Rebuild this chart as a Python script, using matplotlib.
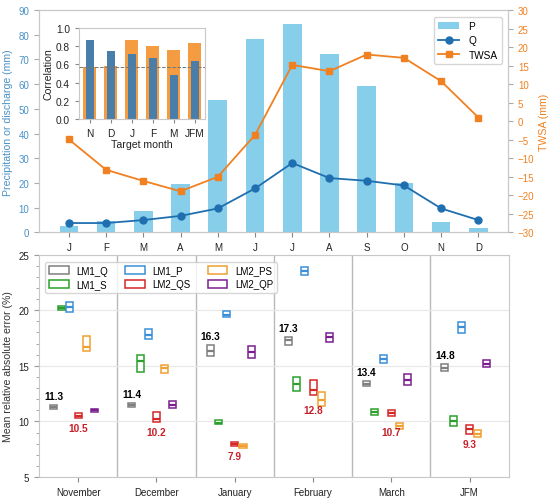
import numpy as np
import matplotlib.pyplot as plt
from matplotlib.patches import Patch

plt.rcParams.update({
    "font.family": ["Liberation Sans", "DejaVu Sans"],
    "font.size": 7,
    "axes.edgecolor": "#c8c8c8",
    "xtick.color": "#555555",
    "ytick.color": "#555555",
})

# ---- top panel data ----
months = ["J", "F", "M", "A", "M", "J", "J", "A", "S", "O", "N", "D"]
precip = [2.7, 4.5, 8.5, 19.6, 53.6, 78.3, 84.2, 72.2, 59.1, 20.1, 4.2, 1.7]
discharge = [3.8, 3.8, 5.0, 6.7, 9.7, 17.8, 28.1, 22.0, 20.9, 19.0, 9.7, 5.0]
twsa = [-4.9, -13.1, -16.1, -18.9, -15.0, -3.7, 15.2, 13.5, 18.0, 17.1, 10.8, 1.0]

# ---- inset data ----
target_months = ["N", "D", "J", "F", "M", "JFM"]
corr_orange = [0.575, 0.578, 0.864, 0.802, 0.762, 0.832]
corr_blue = [0.868, 0.744, 0.711, 0.670, 0.484, 0.637]
corr_thresh = 0.57

# ---- bottom panel data (q1, median, q3) ----
groups = ["November", "December", "January", "February", "March", "JFM"]
models = ["LM1_Q", "LM1_S", "LM1_P", "LM2_QS", "LM2_PS", "LM2_QP"]
model_colors = ["#7f7f7f", "#2ca02c", "#3a8fd8", "#d62728", "#f0a030", "#7b1f8f"]
mrae = {
    "LM1_Q":  [(11.15, 11.3, 11.5), (11.28, 11.45, 11.69), (15.92, 16.3, 16.9),
               (16.85, 17.3, 17.57), (13.22, 13.4, 13.61), (14.51, 14.8, 15.14)],
    "LM1_S":  [(20.05, 20.23, 20.41), (14.42, 15.4, 16.0), (9.75, 9.9, 10.1),
               (12.77, 13.37, 13.97), (10.58, 10.85, 11.12), (9.57, 10.0, 10.52)],
    "LM1_P":  [(19.87, 20.25, 20.77), (17.42, 17.8, 18.29), (19.4, 19.6, 19.94),
               (23.17, 23.55, 23.92), (15.23, 15.6, 16.0), (17.99, 18.5, 18.97)],
    "LM2_QS": [(10.29, 10.5, 10.79), (9.93, 10.2, 10.83), (7.77, 7.95, 8.13),
               (12.36, 12.8, 13.76), (10.52, 10.75, 11.03), (8.85, 9.3, 9.71)],
    "LM2_PS": [(16.31, 16.7, 17.66), (14.33, 14.8, 15.08), (7.6, 7.8, 8.0),
               (11.37, 11.9, 12.63), (9.33, 9.6, 9.84), (8.61, 8.9, 9.21)],
    "LM2_QP": [(10.85, 11.0, 11.15), (11.21, 11.5, 11.82), (15.74, 16.2, 16.8),
               (17.12, 17.55, 17.96), (13.31, 13.75, 14.27), (14.9, 15.2, 15.56)],
}
best_lm1 = [11.3, 11.4, 16.3, 17.3, 13.4, 14.8]
best_lm2 = [10.5, 10.2, 7.9, 12.8, 10.7, 9.3]

C_P = "#87ceeb"
C_Q = "#1f6fb0"
C_TWSA = "#f08020"
C_LBLUE = "#4a92c6"
FS = 7
FS_LAB = 7.6

fig = plt.figure(figsize=(5.5, 5.02), dpi=100)

# ================= top panel =================
ax = fig.add_axes([0.071, 0.535, 0.853, 0.443])
x = np.arange(len(months))
bars = ax.bar(x, precip, width=0.5, color=C_P, label="P", zorder=1)
ln_q, = ax.plot(x, discharge, color=C_Q, marker="o", ms=5, lw=1.3, label="Q", zorder=3)
ax.set_ylim(0, 90)
ax.set_yticks(np.arange(0, 91, 10))
ax.set_xlim(-0.8, 11.8)
ax.set_xticks(x)
ax.set_xticklabels(months)
ax.tick_params(axis="y", colors="#aaaaaa", labelcolor=C_LBLUE, labelsize=FS)
ax.tick_params(axis="x", colors="#888888", labelcolor="#222222", labelsize=FS)
ax.set_ylabel("Precipitation or discharge (mm)", color=C_LBLUE, fontsize=FS_LAB)

ax2 = ax.twinx()
ln_t, = ax2.plot(x, twsa, color=C_TWSA, marker="s", ms=5, lw=1.3, label="TWSA", zorder=3)
ax2.set_ylim(-30, 30)
ax2.set_yticks(np.arange(-30, 31, 5))
ax2.tick_params(axis="y", colors="#aaaaaa", labelcolor=C_TWSA, labelsize=FS)
ax2.set_ylabel("TWSA (mm)", color=C_TWSA, fontsize=FS_LAB, labelpad=3)

ax2.legend([bars, ln_q, ln_t], ["P", "Q", "TWSA"], loc="upper right",
           fontsize=FS + 0.3, edgecolor="#cccccc", borderpad=0.4,
           handlelength=2.1, handletextpad=0.9, labelspacing=0.4,
           bbox_to_anchor=(0.997, 0.99))

# ---- inset ----
axi = fig.add_axes([0.1436, 0.761, 0.229, 0.181])
xi = np.arange(len(target_months))
axi.bar(xi, corr_orange, width=0.62, color="#f59b42", zorder=1)
axi.bar(xi, corr_blue, width=0.4, color="#4a7eaa", zorder=2)
axi.axhline(corr_thresh, color="#777777", ls="--", lw=0.7, zorder=3)
axi.set_xlim(-0.52, 5.48)
axi.set_ylim(0, 1.0)
axi.set_yticks(np.arange(0, 1.01, 0.2))
axi.set_yticklabels([f"{v:.1f}" for v in np.arange(0, 1.01, 0.2)])
axi.set_xticks(xi)
axi.set_xticklabels(target_months)
axi.tick_params(labelsize=FS + 0.3, labelcolor="#222222", colors="#888888", length=3)
axi.set_ylabel("Correlation", color="#222222", labelpad=2, fontsize=FS_LAB)
axi.set_xlabel("Target month", color="#222222", labelpad=1, fontsize=FS_LAB)

# ================= bottom panel =================
axb = fig.add_axes([0.071, 0.0478, 0.854, 0.443])
step = 0.105
for k, (m, c) in enumerate(zip(models, model_colors)):
    stats = []
    for q1, med, q3 in mrae[m]:
        stats.append({"q1": q1, "med": med, "q3": q3, "whislo": q1,
                      "whishi": q3, "fliers": []})
    pos = np.arange(len(groups)) + (k - 3) * step
    axb.bxp(stats, positions=pos, widths=0.09, showcaps=False,
            showfliers=False, patch_artist=True,
            boxprops=dict(facecolor="white", edgecolor=c, lw=1.1),
            medianprops=dict(color=c, lw=1.6),
            whiskerprops=dict(color=c, lw=0), manage_ticks=False)

for i in range(len(groups)):
    q3_lm1 = mrae["LM1_Q"][i][2]
    y_lm2 = min(mrae["LM2_QS"][i][0] - 0.9, mrae["LM2_PS"][i][0] - 0.3)
    axb.text(i - 3 * step, q3_lm1 + 0.8, f"{best_lm1[i]:.1f}", ha="center",
             va="center", fontsize=FS + 0.3, fontweight="bold", color="black")
    axb.text(i, y_lm2, f"{best_lm2[i]:.1f}", ha="center",
             va="center", fontsize=FS + 0.3, fontweight="bold", color="#c8202a")

for b in np.arange(0.5, len(groups) - 1, 1):
    axb.axvline(b, color="#b8b8b8", lw=1.0, zorder=0)

axb.set_xlim(-0.5, len(groups) - 0.5)
axb.set_ylim(5, 25)
axb.set_yticks([5, 10, 15, 20, 25])
axb.set_yticks(np.arange(5, 25, 1), minor=True)
axb.yaxis.grid(True, color="#e8e8e8", lw=0.9, zorder=0)
axb.set_xticks(np.arange(len(groups)))
axb.set_xticklabels(groups)
axb.tick_params(axis="x", colors="#888888", labelcolor="#222222", labelsize=FS)
axb.tick_params(axis="y", which="both", colors="#999999", labelcolor="#222222", labelsize=FS)
axb.set_ylabel("Mean relative absolute error (%)", color="#333333", fontsize=FS_LAB)

handles = [Patch(facecolor="white", edgecolor=c, lw=1.1, label=m)
           for m, c in zip(models, model_colors)]
leg = axb.legend(handles=handles, loc="upper left", ncol=3, fontsize=FS,
                 edgecolor="#cccccc", handlelength=2.0, handleheight=0.8,
                 handletextpad=0.8, columnspacing=1.75, borderpad=0.4,
                 labelspacing=0.4, bbox_to_anchor=(0.003, 0.99))
leg.set_zorder(5)

fig.savefig("out.png", dpi=100, facecolor="white")
